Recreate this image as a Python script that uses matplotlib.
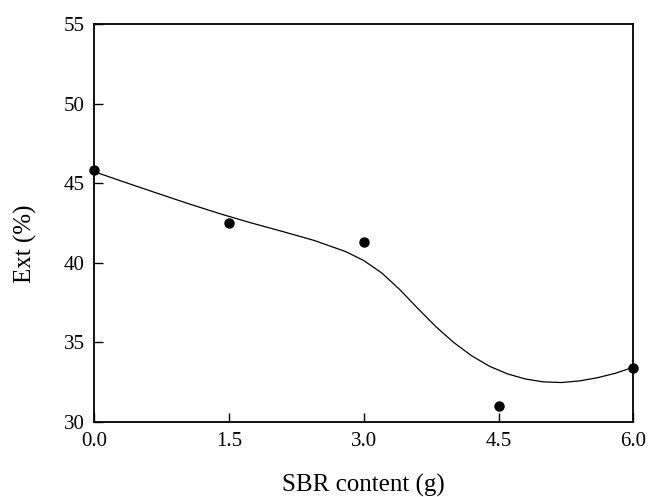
import matplotlib
matplotlib.use("Agg")
import matplotlib.pyplot as plt

# Measured data points
sbr_content = [0.0, 1.5, 3.0, 4.5, 6.0]
ext_percent = [45.8, 42.5, 41.3, 31.0, 33.4]

# Smoothed fit curve
fit_x = [0.0, 0.35, 0.7, 1.05, 1.4, 1.75, 2.1, 2.45, 2.8, 3.0, 3.2, 3.4, 3.6,
         3.8, 4.0, 4.2, 4.4, 4.6, 4.8, 5.0, 5.2, 5.4, 5.6, 5.8, 6.0]
fit_y = [45.72, 45.04, 44.37, 43.71, 43.08, 42.50, 41.96, 41.40, 40.70, 40.14, 39.36, 38.32, 37.14,
         36.00, 35.00, 34.16, 33.50, 33.02, 32.70, 32.52, 32.48, 32.58, 32.78, 33.06, 33.44]

xticks = [0.0, 1.5, 3.0, 4.5, 6.0]
xtick_labels = ["0.0", "1.5", "3.0", "4.5", "6.0"]
yticks = [30, 35, 40, 45, 50, 55]

plt.rcParams['font.family'] = ['Liberation Serif', 'DejaVu Serif']

W, H = 648, 497
fig = plt.figure(figsize=(W / 100, H / 100), dpi=100)
ax = fig.add_axes([94.3 / W, 1 - 422 / H, (633.3 - 94.3) / W, (422 - 24) / H])

ax.plot(fit_x, fit_y, color='black', linewidth=0.9, zorder=2,
        solid_joinstyle='round')
ax.plot(sbr_content, ext_percent, 'o', color='black', markersize=6.5, zorder=3, clip_on=False)

ax.set_xlim(0, 6)
ax.set_ylim(30, 55)
ax.set_xticks(xticks)
ax.set_xticklabels(xtick_labels)
ax.set_yticks(yticks)

ax.tick_params(direction='in', length=6.5, width=1.0, labelsize=15, pad=7,
               top=False, right=False)
for s in ax.spines.values():
    s.set_linewidth(1.3)

fig.text(363.8 / W, 1 - 492 / H, "SBR content (g)", fontsize=18,
         ha='center', va='baseline')
fig.text(25 / W, 1 - 244 / H, "Ext (%)", fontsize=18, rotation=90,
         ha='center', va='center')

fig.savefig("out.png", dpi=100)
